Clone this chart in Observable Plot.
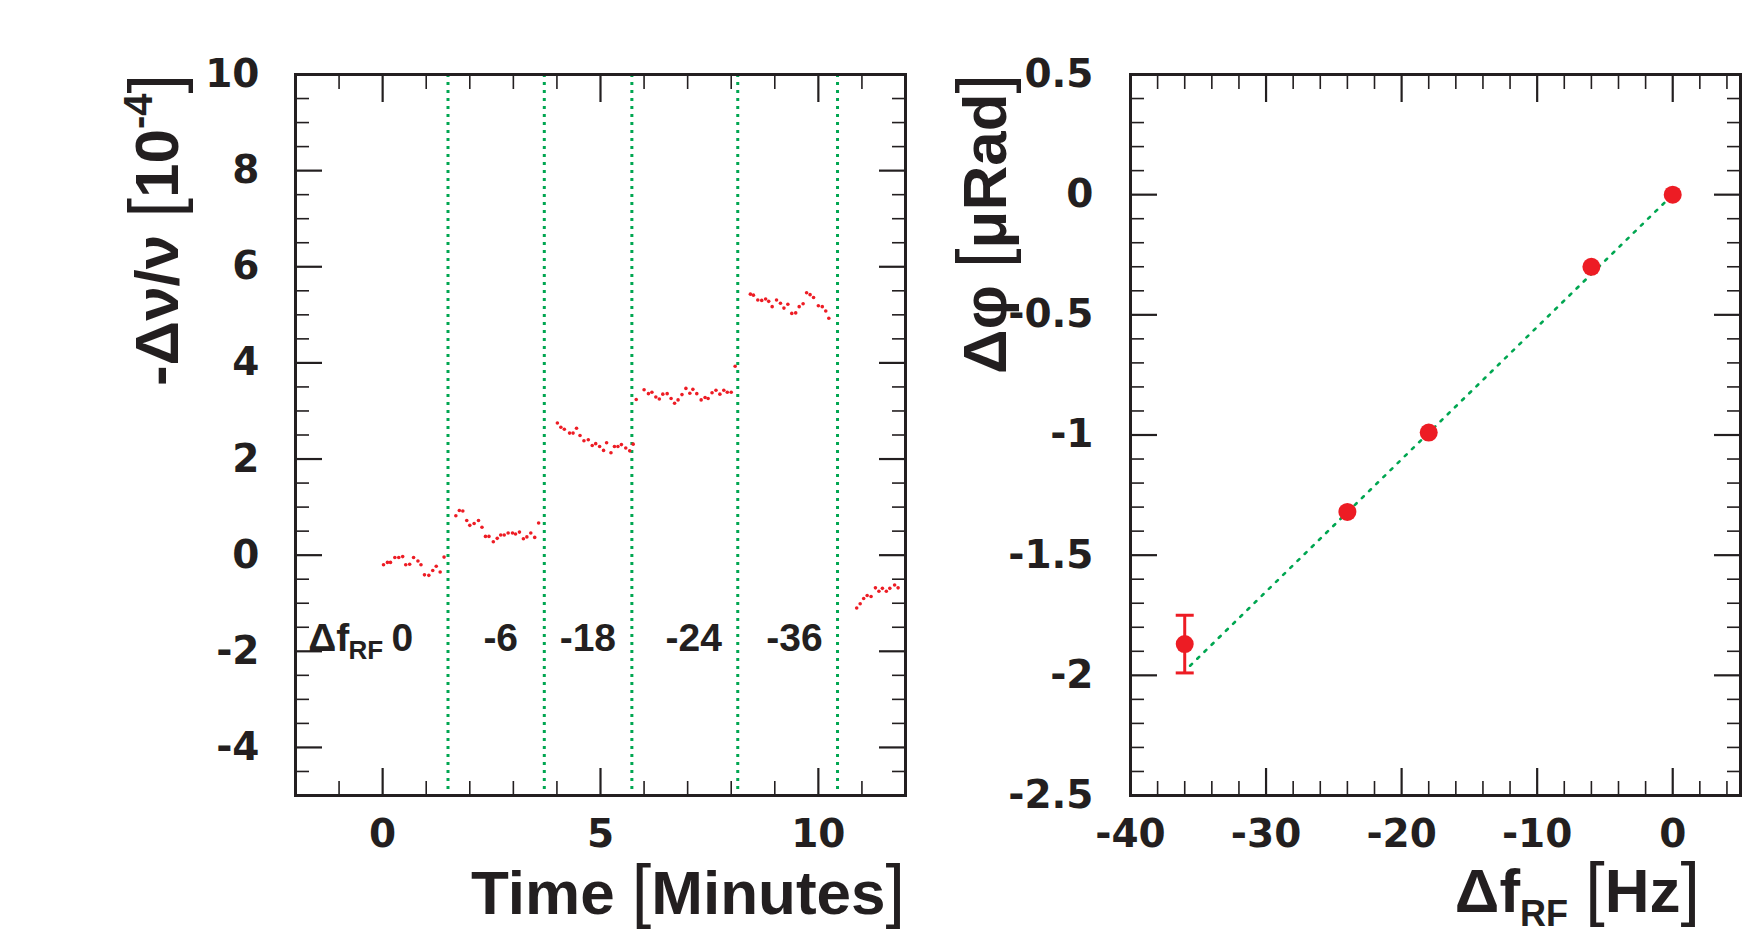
<!DOCTYPE html>
<html><head><meta charset="utf-8">
<script src="https://cdn.jsdelivr.net/npm/d3@7"></script>
<script src="https://cdn.jsdelivr.net/npm/@observablehq/plot@0.6"></script>
<style>
html,body{margin:0;padding:0;background:#fff;width:1752px;height:932px;overflow:hidden}
#wrap{display:flex;flex-direction:row;width:1752px;height:932px}
#wrap svg{flex:none;overflow:visible;display:block}
</style></head><body><div id="wrap"></div>
<script>
// ---------- Left panel data: time [min] and -Δν/ν [1e-4] ----------
const timeMin = [
  0.02,0.11,0.18,0.28,0.37,0.46,0.53,0.62,0.71,0.81,0.88,0.96,1.06,1.15,1.23,1.32,1.41,
  1.68,1.76,1.84,1.93,2.00,2.10,2.20,2.28,2.36,2.44,2.54,2.63,2.71,2.79,2.88,2.98,3.05,3.14,3.23,3.31,3.40,3.49,3.58,
  4.01,4.09,4.17,4.29,4.37,4.45,4.53,4.62,4.72,4.81,4.89,4.98,5.07,5.14,5.24,5.32,5.40,5.48,5.58,5.67,5.75,
  5.82,6.00,6.10,6.18,6.27,6.35,6.43,6.53,6.62,6.70,6.78,6.87,6.96,7.05,7.12,7.21,7.31,7.40,7.47,7.56,7.65,7.74,7.83,7.91,8.00,8.09,
  8.44,8.51,8.61,8.70,8.79,8.86,8.94,9.04,9.13,9.21,9.30,9.39,9.48,9.56,9.65,9.73,9.81,9.89,10.00,10.09,10.17,10.24,
  10.88,10.96,11.04,11.12,11.21,11.31,11.39,11.47,11.56,11.64,11.75,11.83
];
const relShift = [
  -0.20,-0.15,-0.15,-0.05,-0.05,-0.03,-0.20,-0.19,-0.05,-0.12,-0.20,-0.41,-0.42,-0.32,-0.23,-0.35,-0.04,
  0.82,0.93,0.92,0.72,0.62,0.66,0.72,0.58,0.39,0.39,0.28,0.35,0.42,0.42,0.46,0.46,0.44,0.48,0.34,0.38,0.46,0.37,0.67,
  2.75,2.66,2.62,2.54,2.54,2.64,2.49,2.38,2.40,2.28,2.32,2.26,2.18,2.34,2.13,2.26,2.26,2.30,2.23,2.17,2.31,
  3.24,3.44,3.36,3.39,3.29,3.25,3.35,3.36,3.26,3.16,3.23,3.34,3.47,3.37,3.45,3.36,3.23,3.28,3.26,3.38,3.43,3.35,3.43,3.39,3.39,3.93,
  5.43,5.41,5.31,5.30,5.33,5.28,5.17,5.31,5.24,5.14,5.22,5.03,5.04,5.17,5.23,5.46,5.42,5.36,5.19,5.17,5.08,4.93,
  -1.10,-1.01,-0.90,-0.84,-0.86,-0.68,-0.75,-0.69,-0.75,-0.69,-0.62,-0.68
];
const stepTimes = [1.5, 3.71, 5.72, 8.15, 10.44];         // f_RF change instants [min]
const labelTimes = [0.45, 2.71, 4.71, 7.14, 9.45];        // where the Δf_RF values are written
const labelLevel = -1.73;

// ---------- Right panel data ----------
const freqShift = [0, -6, -18, -24, -36];                 // Δf_RF [Hz]
const phaseShift = [0, -0.30, -0.99, -1.32, -1.87];
const phaseErr = [0.01, 0.015, 0.02, 0.025, 0.12];
const fitFreq = [-35.6, 0];
const fitPhase = [-1.96, 0];

// ---------- Tick values / labels ----------
const leftXMajor = [0, 5, 10];
const leftYMajor = [-4, -2, 0, 2, 4, 6, 8, 10];
const rightXMajor = [-40, -30, -20, -10, 0];
const rightYMajor = [-2.5, -2, -1.5, -1, -0.5, 0, 0.5];
const rightYLabels = ["-2.5", "-2", "-1.5", "-1", "-0.5", "0", "0.5"];

const leftXMinor = d3.range(-1, 12).filter(k => k % 5 !== 0);
const leftYMinor = d3.range(-9, 20).map(k => k / 2).filter(v => v % 2 !== 0);
const rightXMinor = d3.range(-38, 5, 2).filter(k => k % 10 !== 0);
const rightYMinor = d3.range(-24, 5).map(k => k / 10).filter(v => Math.round(v * 10) % 5 !== 0);

const RED = "#ed1c24", GREEN = "#00a651", INK = "#231f20";
const TICKFONT = "DejaVu Sans";
const TITLEFONT = "Liberation Sans";
const MARKER_R = 9;

function tickMarks(axis, values, len, sw) {
  const A = axis === "x" ? Plot.axisX : Plot.axisY;
  const anchors = axis === "x" ? ["bottom", "top"] : ["left", "right"];
  return anchors.map(a => A(values, {anchor: a, tickSize: -len, tickFormat: () => "", stroke: INK, strokeWidth: sw, label: null}));
}

const leftRows = timeMin.map((t, i) => ({t, v: relShift[i]}));

const left = Plot.plot({
  width: 960, height: 932,
  marginLeft: 295, marginRight: 55, marginTop: 74, marginBottom: 137,
  style: {background: "white", overflow: "visible", fontFamily: TITLEFONT},
  x: {domain: [-2, 12], axis: null},
  y: {domain: [-5, 10], axis: null},
  marks: [
    Plot.ruleX(stepTimes, {stroke: GREEN, strokeWidth: 3, strokeDasharray: "3,5"}),
    Plot.dot(leftRows, {x: "t", y: "v", r: 1.8, fill: RED, stroke: null}),
    Plot.text(freqShift, {x: (d, i) => labelTimes[i], y: () => labelLevel, text: d => String(d),
      fontSize: 39, fontWeight: "bold", fontFamily: TITLEFONT, fill: INK}),
    Plot.text(["Δf"], {x: () => labelTimes[0], y: () => labelLevel, text: d => d, textAnchor: "end", dx: -53,
      fontSize: 39, fontWeight: "bold", fontFamily: TITLEFONT, fill: INK}),
    Plot.text(["RF"], {x: () => labelTimes[0], y: () => labelLevel, text: d => d, textAnchor: "end", dx: -19, dy: 12,
      fontSize: 26, fontWeight: "bold", fontFamily: TITLEFONT, fill: INK}),
    ...tickMarks("x", leftXMajor, 27, 2.2),
    ...tickMarks("x", leftXMinor, 14, 1.6),
    ...tickMarks("y", leftYMajor.filter(v => v !== 10), 27, 2.2),
    ...tickMarks("y", leftYMinor, 14, 1.6),
    Plot.axisX(leftXMajor, {anchor: "bottom", tickSize: 0, tickPadding: 24, tickFormat: d => String(d),
      fontSize: 39, fontWeight: "bold", fontFamily: TICKFONT, fill: INK, label: null}),
    Plot.axisY(leftYMajor, {anchor: "left", tickSize: 0, tickPadding: 36, tickFormat: d => String(d),
      fontSize: 39, fontWeight: "bold", fontFamily: TICKFONT, fill: INK, label: null}),
    Plot.frame({stroke: INK, strokeWidth: 3})
  ]
});

const rightRows = freqShift.map((f, i) => ({f, p: phaseShift[i], e: phaseErr[i]}));
const fitRows = fitFreq.map((f, i) => ({f, p: fitPhase[i]}));
// error bars are only visible where they stick out of the marker (ROOT style)
const visibleErr = rightRows.filter(d => d.e > 0.05);
const capRows = visibleErr.flatMap(d => [{f: d.f, p: d.p - d.e}, {f: d.f, p: d.p + d.e}]);
const capSymbol = {draw(ctx, size) { const w = Math.sqrt(size / Math.PI); ctx.moveTo(-w, 0); ctx.lineTo(w, 0); }};

const right = Plot.plot({
  width: 792, height: 932,
  marginLeft: 170, marginRight: 12, marginTop: 74, marginBottom: 137,
  style: {background: "white", overflow: "visible", fontFamily: TITLEFONT},
  x: {domain: [-40, 5], axis: null},
  y: {domain: [-2.5, 0.5], axis: null},
  marks: [
    Plot.ruleX(visibleErr, {x: "f", y1: d => d.p - d.e, y2: d => d.p + d.e, stroke: RED, strokeWidth: 3}),
    Plot.dot(capRows, {x: "f", y: "p", symbol: capSymbol, r: 9, stroke: RED, strokeWidth: 3, fill: "none"}),
    Plot.line(fitRows, {x: "f", y: "p", stroke: GREEN, strokeWidth: 2.6, strokeDasharray: "2.6,7.4"}),
    Plot.dot(rightRows, {x: "f", y: "p", r: MARKER_R, fill: RED, stroke: null}),
    ...tickMarks("x", rightXMajor.filter(v => v !== -40), 27, 2.2),
    ...tickMarks("x", rightXMinor, 14, 1.6),
    ...tickMarks("y", rightYMajor.filter(v => v !== 0.5 && v !== -2.5), 27, 2.2),
    ...tickMarks("y", rightYMinor, 14, 1.6),
    Plot.axisX(rightXMajor, {anchor: "bottom", tickSize: 0, tickPadding: 24, tickFormat: d => String(d),
      fontSize: 39, fontWeight: "bold", fontFamily: TICKFONT, fill: INK, label: null}),
    Plot.axisY(rightYMajor, {anchor: "left", tickSize: 0, tickPadding: 37, tickFormat: d => rightYLabels[rightYMajor.indexOf(d)],
      fontSize: 39, fontWeight: "bold", fontFamily: TICKFONT, fill: INK, label: null}),
    Plot.frame({stroke: INK, strokeWidth: 3})
  ]
});

const wrap = document.getElementById("wrap");
wrap.appendChild(left);
wrap.appendChild(right);

function title(svg, attrs, parts) {
  const t = d3.select(svg).append("text")
    .attr("font-family", TITLEFONT).attr("font-weight", "bold").attr("font-size", 62).attr("fill", INK);
  for (const [k, v] of Object.entries(attrs)) t.attr(k, v);
  for (const p of parts) {
    const s = t.append("tspan").text(p.text);
    if (p.w) s.attr("font-weight", p.w);
    if (p.fs) s.attr("font-size", p.fs);
    if (p.dy) s.attr("dy", p.dy);
  }
  return t;
}

title(left, {x: 905, y: 914, "text-anchor": "end"}, [
  {text: "Time "}, {text: "[", w: "normal", fs: 70}, {text: "Minutes"}, {text: "]", w: "normal", fs: 70}
]);
title(left, {transform: "translate(178,74) rotate(-90)", "text-anchor": "end"}, [
  {text: "-Δν/ν "}, {text: "[", w: "normal", fs: 70}, {text: "10"}, {text: "-4", fs: 40, dy: -26}, {text: "]", w: "normal", fs: 70, dy: 26}
]);
title(right, {x: 740, y: 912, "text-anchor": "end"}, [
  {text: "Δf"}, {text: "RF", fs: 36, dy: 14}, {text: " ", dy: -14}, {text: "[", w: "normal", fs: 70}, {text: "Hz"}, {text: "]", w: "normal", fs: 70}
]);
title(right, {transform: "translate(46,74) rotate(-90)", "text-anchor": "end"}, [
  {text: "Δφ "}, {text: "[", w: "normal", fs: 70}, {text: "μRad"}, {text: "]", w: "normal", fs: 70}
]);
</script>
</body></html>
